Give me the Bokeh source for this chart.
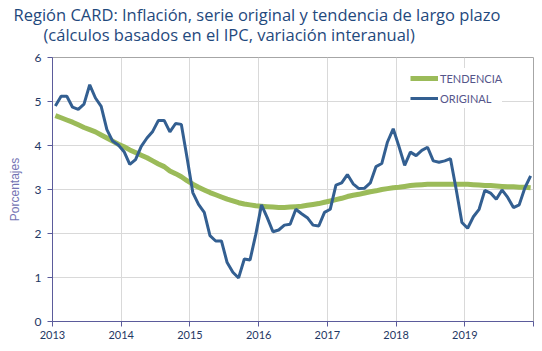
from bokeh.plotting import figure
from bokeh.models import Range1d, Legend, LegendItem, Title, FixedTicker, SingleIntervalTicker
from bokeh.embed import file_html
from bokeh.resources import INLINE

years = [2013, 2014, 2015, 2016, 2017, 2018, 2019]

original = [
    4.90, 5.12, 5.12, 4.87, 4.82, 4.94, 5.38, 5.08, 4.89, 4.36, 4.10, 4.01,
    3.86, 3.57, 3.68, 3.98, 4.17, 4.32, 4.57, 4.57, 4.31, 4.50, 4.48, 3.72,
    2.93, 2.66, 2.48, 1.95, 1.83, 1.83, 1.34, 1.12, 0.99, 1.42, 1.40, 1.98,
    2.65, 2.36, 2.04, 2.08, 2.19, 2.21, 2.55, 2.45, 2.36, 2.19, 2.17, 2.48,
    2.55, 3.10, 3.15, 3.34, 3.13, 3.02, 3.03, 3.15, 3.52, 3.59, 4.08, 4.38,
    3.98, 3.55, 3.85, 3.77, 3.89, 3.96, 3.65, 3.62, 3.65, 3.70, 3.00, 2.25,
    2.12, 2.38, 2.55, 2.98, 2.92, 2.78, 2.99, 2.82, 2.59, 2.65, 3.04, 3.31,
]

tendencia = [
    4.68, 4.63, 4.58, 4.53, 4.47, 4.41, 4.36, 4.31, 4.24, 4.17, 4.10, 4.03,
    3.97, 3.90, 3.84, 3.78, 3.72, 3.65, 3.58, 3.52, 3.42, 3.36, 3.29, 3.20,
    3.12, 3.05, 2.99, 2.93, 2.88, 2.83, 2.78, 2.74, 2.70, 2.67, 2.65, 2.63,
    2.62, 2.61, 2.60, 2.59, 2.59, 2.60, 2.61, 2.62, 2.64, 2.66, 2.68, 2.71,
    2.74, 2.77, 2.80, 2.84, 2.87, 2.89, 2.92, 2.95, 2.97, 3.00, 3.02, 3.04,
    3.05, 3.07, 3.09, 3.10, 3.11, 3.12, 3.12, 3.12, 3.12, 3.12, 3.12, 3.12,
    3.12, 3.11, 3.10, 3.09, 3.09, 3.08, 3.07, 3.06, 3.06, 3.05, 3.05, 3.04,
]

title_line1 = "Región CARD: Inflación, serie original y tendencia de largo plazo"
title_line2 = "(cálculos basados en el IPC, variación interanual)"

# mid-month positions in decimal years
x = [years[0] + (k + 0.5) / 12 for k in range(len(original))]

p = figure(width=542, height=351, output_backend="svg", toolbar_location=None,
           x_range=Range1d(2013, 2020), y_range=Range1d(0, 6),
           min_border_left=52, min_border_right=9, min_border_top=56, min_border_bottom=30)

p.background_fill_color = "white"
p.border_fill_color = "white"
p.outline_line_color = "#A6A6A6"
p.outline_line_width = 1

axis_col = "#5B5B9B"
tick_col = "#1F3864"

p.xaxis.ticker = FixedTicker(ticks=years + [2020])
p.xaxis.major_label_overrides = {2020: ""}
p.xaxis.minor_tick_line_color = None
p.xaxis.axis_line_color = axis_col
p.xaxis.major_tick_line_color = axis_col
p.xaxis.major_tick_out = 5
p.xaxis.major_tick_in = 0
p.xaxis.major_label_text_font = "Lato"
p.xaxis.major_label_text_font_size = "11px"
p.xaxis.major_label_text_color = tick_col
p.xaxis.major_label_standoff = 4

p.yaxis.ticker = SingleIntervalTicker(interval=1)
p.yaxis.minor_tick_line_color = None
p.yaxis.axis_line_color = axis_col
p.yaxis.major_tick_line_color = axis_col
p.yaxis.major_tick_out = 5
p.yaxis.major_tick_in = 0
p.yaxis.major_label_text_font = "Lato"
p.yaxis.major_label_text_font_size = "12px"
p.yaxis.major_label_text_color = tick_col
p.yaxis.major_label_standoff = 6
p.yaxis.axis_label = "Porcentajes"
p.yaxis.axis_label_text_font = "Liberation Sans"
p.yaxis.axis_label_text_font_style = "normal"
p.yaxis.axis_label_text_font_size = "12px"
p.yaxis.axis_label_text_color = "#7373B3"
p.yaxis.axis_label_standoff = 10

p.xgrid.grid_line_color = "#D9D9D9"
p.ygrid.grid_line_color = "#D9D9D9"
p.xgrid.ticker = FixedTicker(ticks=years)

r_t = p.line(x, tendencia, line_color="#9BBB59", line_width=5)
r_o = p.line(x, original, line_color="#335F91", line_width=3)

legend = Legend(items=[LegendItem(label="TENDENCIA", renderers=[r_t]),
                       LegendItem(label="ORIGINAL", renderers=[r_o])],
                location=(358, 213))
legend.background_fill_color = "white"
legend.background_fill_alpha = 1
legend.border_line_color = None
legend.padding = 5
legend.spacing = 0
legend.margin = 0
legend.glyph_width = 28
legend.glyph_height = 20
legend.label_height = 20
legend.label_standoff = 2
legend.label_text_font = "Lato"
legend.label_text_font_size = "11px"
legend.label_text_color = "#55558A"
p.add_layout(legend, "center")

title_col = "#1F497D"
spacer = Title(text="\u00a0", text_font_size="8px", standoff=0)
title = Title(text=title_line1 + "\n" + "\u00a0" * 7 + title_line2,
              align="left", offset=-39, standoff=0,
              text_font="Open Sans", text_font_size="16.5px", text_font_style="normal",
              text_line_height=0.91, text_color=title_col)
p.add_layout(spacer, "above")
p.add_layout(title, "above")

open("out.html", "w").write(file_html(p, INLINE))
